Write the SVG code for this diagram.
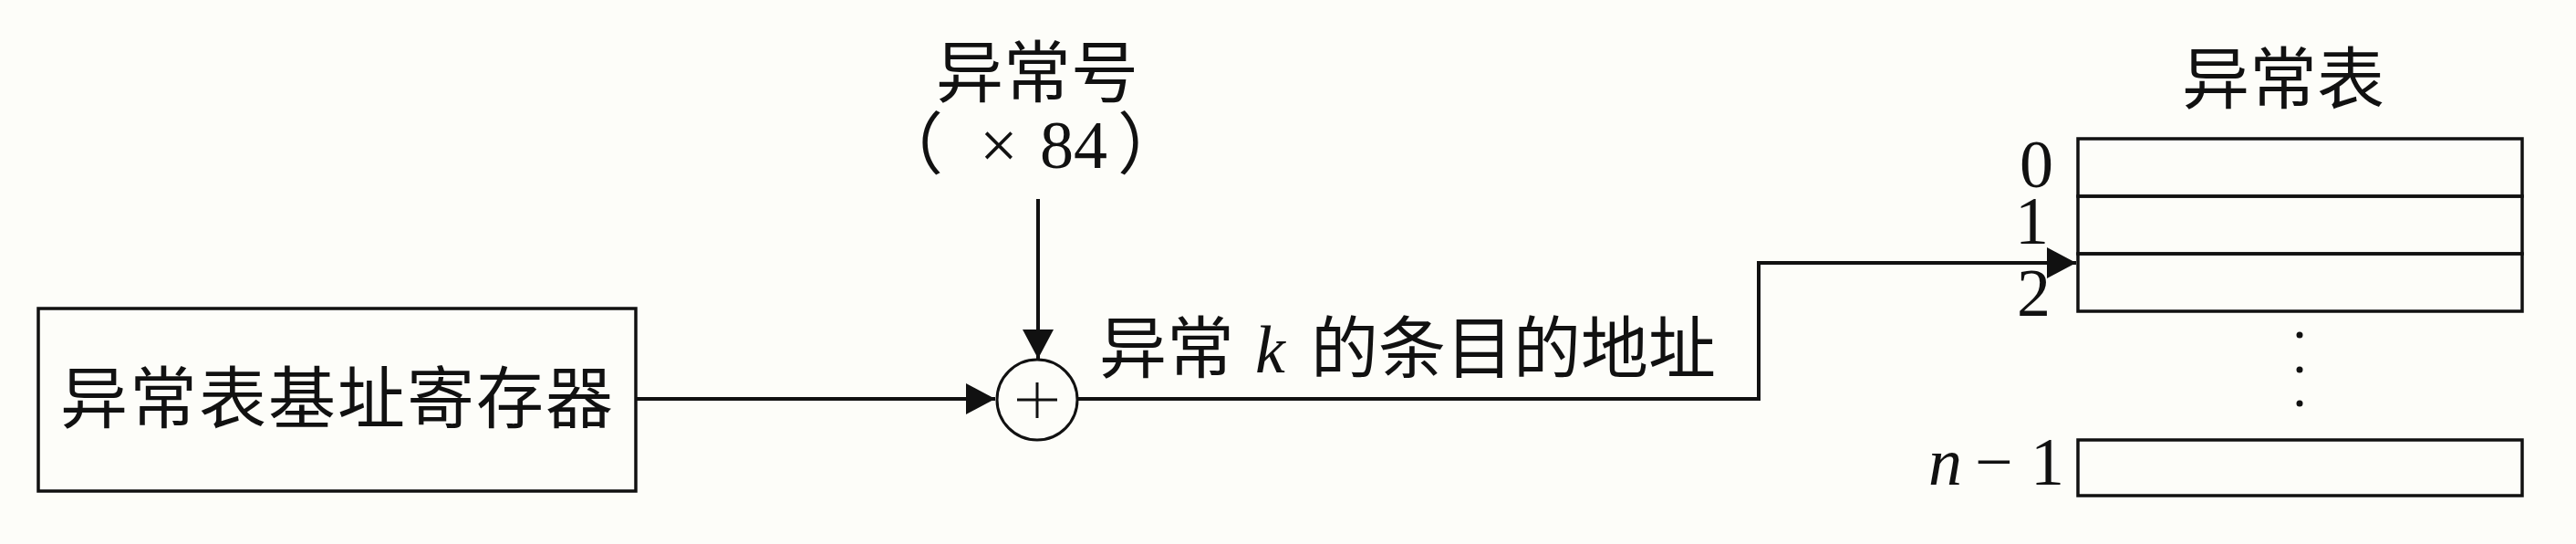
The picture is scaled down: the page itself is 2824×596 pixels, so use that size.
<svg xmlns="http://www.w3.org/2000/svg" width="2824" height="596" viewBox="0 0 2824 596">
<style>
.cjk{font-family:"Noto Sans CJK SC","Noto Sans CJK JP",sans-serif;font-size:74px;fill:#111}
.ser{font-family:"Liberation Serif","Noto Sans CJK SC",serif;font-size:74px;fill:#111}
.it{font-style:italic}
.box{fill:none;stroke:#111;stroke-width:3.5}
.wire{fill:none;stroke:#111;stroke-width:4}
.thin{fill:none;stroke:#111;stroke-width:3}
</style>
<defs>
<marker id="ah" markerUnits="userSpaceOnUse" markerWidth="32" markerHeight="34" refX="32" refY="17" orient="auto">
<path d="M0,0 L32,17 L0,34 z" fill="#111"/>
</marker>
</defs>
<rect width="2824" height="596" fill="#fdfdf9"/>

<g id="register">
<rect class="box" x="42" y="338" width="655" height="200"/>
<text class="cjk" x="370" y="463" text-anchor="middle" letter-spacing="2">异常表基址寄存器</text>
</g>

<g id="exception-number">
<text class="cjk" x="1137" y="106" text-anchor="middle">异常号</text>
<text class="ser"><tspan x="960" y="184">（</tspan><tspan x="1074" y="184">×</tspan><tspan x="1140" y="184">84</tspan><tspan x="1225" y="184">）</tspan></text>
</g>

<g id="adder">
<circle class="thin" cx="1137" cy="438" r="44"/>
<line class="thin" x1="1115" y1="438" x2="1159" y2="438"/>
<line class="thin" x1="1137" y1="419" x2="1137" y2="458"/>
</g>

<g id="entry-label">
<text class="cjk"><tspan x="1205" y="408">异常</tspan><tspan class="ser it" x="1376" y="408">k</tspan><tspan x="1437" y="408">的条目的地址</tspan></text>
</g>

<g id="exception-table">
<text class="cjk" x="2503" y="113" text-anchor="middle">异常表</text>
<rect class="box" x="2278" y="152" width="487" height="63"/>
<rect class="box" x="2278" y="215" width="487" height="63"/>
<rect class="box" x="2278" y="278" width="487" height="63"/>
<rect class="box" x="2278" y="482" width="487" height="61"/>
<circle cx="2521" cy="367" r="3.5" fill="#111"/>
<circle cx="2521" cy="405" r="3.5" fill="#111"/>
<circle cx="2521" cy="442" r="3.5" fill="#111"/>
<text class="ser" x="2251" y="205" text-anchor="end">0</text>
<text class="ser" x="2246" y="267" text-anchor="end">1</text>
<text class="ser" x="2248" y="346" text-anchor="end">2</text>
<text class="ser"><tspan class="it" x="2114" y="531">n</tspan><tspan x="2165" y="531">−</tspan><tspan x="2226" y="531">1</tspan></text>
</g>

<g id="connectors">
<line class="wire" x1="697" y1="437" x2="1091" y2="437" marker-end="url(#ah)"/>
<line class="wire" x1="1138" y1="218" x2="1138" y2="393" marker-end="url(#ah)"/>
<polyline class="wire" points="1181,437 1928,437 1928,288 2276,288" marker-end="url(#ah)"/>
</g>
</svg>
